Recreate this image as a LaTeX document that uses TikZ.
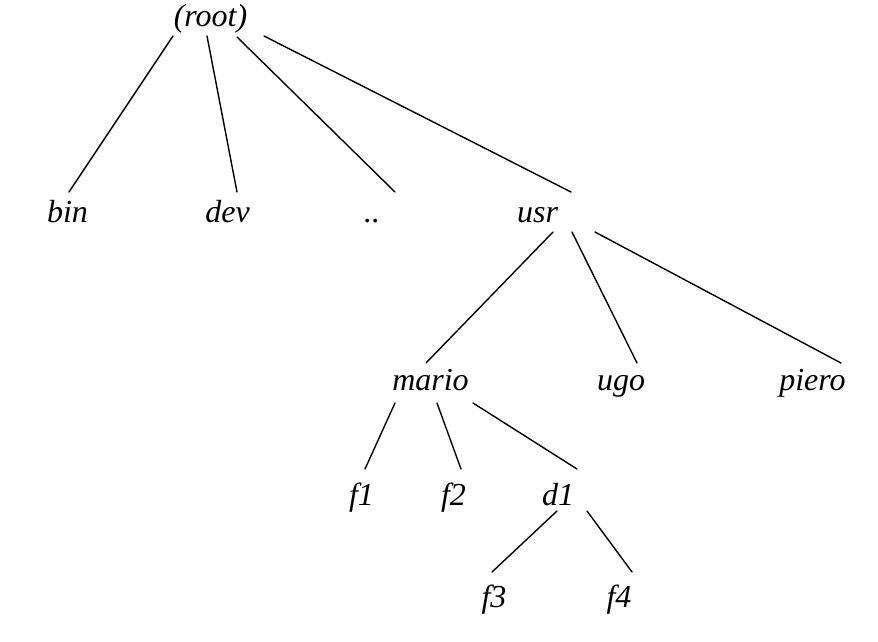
\documentclass[tikz,border=0pt]{standalone}
\usepackage{fontspec}
\setmainfont{Liberation Serif}
\begin{document}
\begin{tikzpicture}[x=1pt,y=-1pt,
  lbl/.style={anchor=base,inner sep=0pt,font=\fontsize{32}{38}\selectfont\itshape},
  edge/.style={line width=1.4pt,line cap=round}]
\useasboundingbox (0,0) rectangle (878,642);
\node[lbl] (root) at (210.5,27) {(root)};
\node[lbl] (bin) at (67.5,222) {bin};
\node[lbl] (dev) at (227.5,222) {dev};
\node[lbl] (dots) at (372,222) {..};
\node[lbl] (usr) at (537.5,222) {usr};
\node[lbl] (mario) at (430.5,390) {mario};
\node[lbl] (ugo) at (621,390) {ugo};
\node[lbl] (piero) at (812.5,390) {piero};
\node[lbl] (f1) at (361.5,505) {f1};
\node[lbl] (f2) at (453.5,505) {f2};
\node[lbl] (d1) at (558,505) {d1};
\node[lbl] (f3) at (494,607) {f3};
\node[lbl] (f4) at (619,607) {f4};
\draw[edge] ([shift={(-37.5,9)}]root.base) -- ([shift={(1.5,-30)}]bin.base);
\draw[edge] ([shift={(-3.5,9)}]root.base) -- ([shift={(9.5,-30)}]dev.base);
\draw[edge] ([shift={(26.5,10)}]root.base) -- ([shift={(23,-30)}]dots.base);
\draw[edge] ([shift={(53.5,9)}]root.base) -- ([shift={(33.5,-30)}]usr.base);
\draw[edge] ([shift={(15.5,10)}]usr.base) -- ([shift={(-4.5,-27)}]mario.base);
\draw[edge] ([shift={(34.5,10)}]usr.base) -- ([shift={(16,-27)}]ugo.base);
\draw[edge] ([shift={(57.5,10)}]usr.base) -- ([shift={(28.5,-27)}]piero.base);
\draw[edge] ([shift={(-35.5,13)}]mario.base) -- ([shift={(3.5,-36)}]f1.base);
\draw[edge] ([shift={(6.5,13)}]mario.base) -- ([shift={(7.5,-36)}]f2.base);
\draw[edge] ([shift={(42.5,13)}]mario.base) -- ([shift={(19,-36)}]d1.base);
\draw[edge] ([shift={(-1,6)}]d1.base) -- ([shift={(-2,-35)}]f3.base);
\draw[edge] ([shift={(29,6)}]d1.base) -- ([shift={(13,-35)}]f4.base);
\end{tikzpicture}
\end{document}
